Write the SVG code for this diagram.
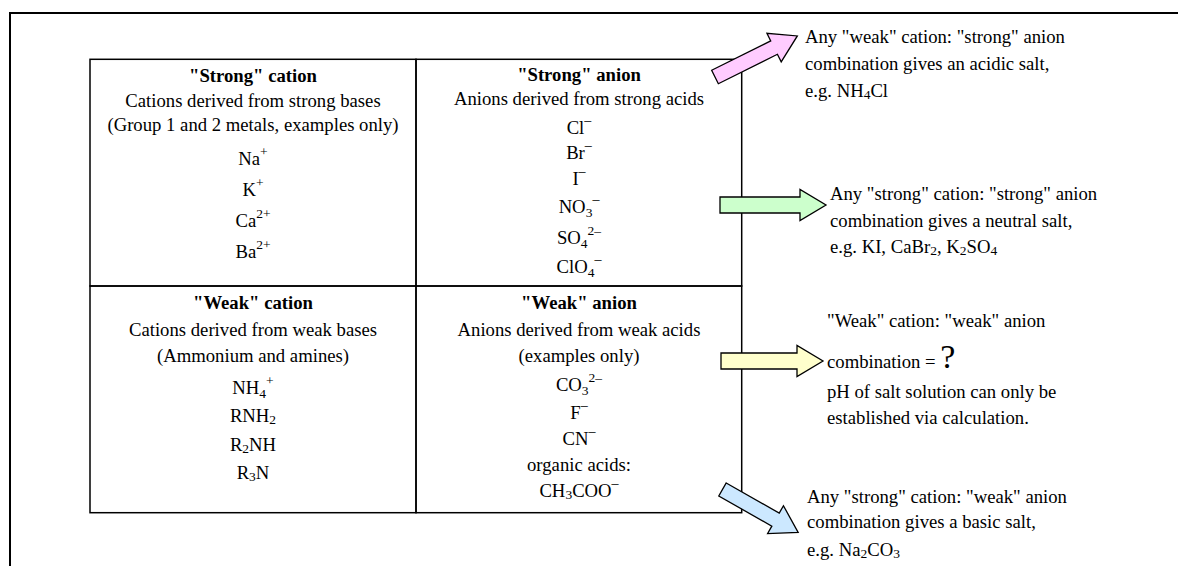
<svg xmlns="http://www.w3.org/2000/svg" width="1178" height="566" viewBox="0 0 1178 566">
<style>
text{font-family:"Liberation Serif","Times New Roman",serif;font-size:18.7px;fill:#000}
.c{text-anchor:middle}
.b{font-weight:bold}
.cell{fill:none;stroke:#000;stroke-width:1.5}
.frame{fill:none;stroke:#000;stroke-width:2}
.arrow{stroke:#000;stroke-width:1.3;stroke-linejoin:miter}
.sm{font-size:13.5px}
.dash{font-size:14px}
</style>
<rect x="0" y="0" width="1178" height="566" fill="#fff"/>
<path class="frame" d="M9,13 H1178 M10,12 V566"/>

<g id="cell-strong-cation">
<rect class="cell" x="90" y="59.3" width="326" height="226.7"/>
<text class="c b" x="253" y="82">"Strong" cation</text>
<text class="c" x="253" y="107">Cations derived from strong bases</text>
<text class="c" x="253" y="131">(Group 1 and 2 metals, examples only)</text>
<text class="c" x="253" y="165">Na<tspan class="sm" dy="-9">+</tspan></text>
<text class="c" x="253" y="196">K<tspan class="sm" dy="-9">+</tspan></text>
<text class="c" x="253" y="227">Ca<tspan class="sm" dy="-9">2+</tspan></text>
<text class="c" x="253" y="258">Ba<tspan class="sm" dy="-9">2+</tspan></text>
</g>

<g id="cell-strong-anion">
<rect class="cell" x="416" y="59.3" width="325.7" height="226.7"/>
<text class="c b" x="579" y="81">"Strong" anion</text>
<text class="c" x="579" y="105">Anions derived from strong acids</text>
<text class="c" x="579" y="134">Cl<tspan class="dash" dy="-9">–</tspan></text>
<text class="c" x="579" y="159">Br<tspan class="dash" dy="-9">–</tspan></text>
<text class="c" x="579" y="185">I<tspan class="dash" dy="-9">–</tspan></text>
<text class="c" x="579" y="213">NO<tspan class="sm" dy="4">3</tspan><tspan class="dash" dy="-13">–</tspan></text>
<text class="c" x="579" y="244">SO<tspan class="sm" dy="4">4</tspan><tspan class="sm" dy="-13">2–</tspan></text>
<text class="c" x="579" y="273">ClO<tspan class="sm" dy="4">4</tspan><tspan class="dash" dy="-13">–</tspan></text>
</g>

<g id="cell-weak-cation">
<rect class="cell" x="90" y="286" width="326" height="226.7"/>
<text class="c b" x="253" y="309">"Weak" cation</text>
<text class="c" x="253" y="335.5">Cations derived from weak bases</text>
<text class="c" x="253" y="362">(Ammonium and amines)</text>
<text class="c" x="253" y="393.5">NH<tspan class="sm" dy="4">4</tspan><tspan class="sm" dy="-13">+</tspan></text>
<text class="c" x="253" y="422">RNH<tspan class="sm" dy="2">2</tspan></text>
<text class="c" x="253" y="450.5">R<tspan class="sm" dy="2">2</tspan><tspan dy="-2">NH</tspan></text>
<text class="c" x="253" y="479">R<tspan class="sm" dy="2">3</tspan><tspan dy="-2">N</tspan></text>
</g>

<g id="cell-weak-anion">
<rect class="cell" x="416" y="286" width="325.7" height="226.7"/>
<text class="c b" x="579" y="309">"Weak" anion</text>
<text class="c" x="579" y="335.5">Anions derived from weak acids</text>
<text class="c" x="579" y="361.5">(examples only)</text>
<text class="c" x="579" y="391">CO<tspan class="sm" dy="4">3</tspan><tspan class="sm" dy="-13">2–</tspan></text>
<text class="c" x="579" y="418.5">F<tspan class="dash" dy="-9">–</tspan></text>
<text class="c" x="579" y="445">CN<tspan class="dash" dy="-9">–</tspan></text>
<text class="c" x="579" y="471">organic acids:</text>
<text class="c" x="579" y="497">CH<tspan class="sm" dy="2">3</tspan><tspan dy="-2">COO</tspan><tspan class="dash" dy="-9">–</tspan></text>
</g>

<g id="connectors">
<path class="arrow" fill="#FFCCFF" transform="translate(715,77) rotate(-26.5)" d="M0,-7.5 L66,-7.5 L66,-16 L92,0 L66,16 L66,7.5 L0,7.5 Z"/>
<path class="arrow" fill="#CCFFCC" transform="translate(720,205)" d="M0,-8 L80,-8 L80,-15.5 L106,0 L80,15.5 L80,8 L0,8 Z"/>
<path class="arrow" fill="#FFFFCC" transform="translate(721,361)" d="M0,-8 L76,-8 L76,-15.5 L102,0 L76,15.5 L76,8 L0,8 Z"/>
<path class="arrow" fill="#CCE8FF" transform="translate(722.5,489.5) rotate(29.6)" d="M0,-7.5 L61,-7.5 L61,-16 L87,0 L61,16 L61,7.5 L0,7.5 Z"/>
</g>

<g id="acidic-salt">
<text x="805" y="43.3">Any "weak" cation: "strong" anion</text>
<text x="805" y="70">combination gives an acidic salt,</text>
<text x="805" y="96.7">e.g. NH<tspan class="sm" dy="2">4</tspan><tspan dy="-2">Cl</tspan></text>
</g>

<g id="neutral-salt">
<text x="830" y="200">Any "strong" cation: "strong" anion</text>
<text x="830" y="226.7">combination gives a neutral salt,</text>
<text x="830" y="253.3">e.g. KI, CaBr<tspan class="sm" dy="2">2</tspan><tspan dy="-2">, K</tspan><tspan class="sm" dy="2">2</tspan><tspan dy="-2">SO</tspan><tspan class="sm" dy="2">4</tspan></text>
</g>

<g id="unknown-salt">
<text x="827" y="326.7">"Weak" cation: "weak" anion</text>
<text x="827" y="368.3">combination = <tspan style="font-size:34px">?</tspan></text>
<text x="827" y="398.3">pH of salt solution can only be</text>
<text x="827" y="424.3">established via calculation.</text>
</g>

<g id="basic-salt">
<text x="807" y="502.7">Any "strong" cation: "weak" anion</text>
<text x="807" y="528.3">combination gives a basic salt,</text>
<text x="807" y="556">e.g. Na<tspan class="sm" dy="2">2</tspan><tspan dy="-2">CO</tspan><tspan class="sm" dy="2">3</tspan></text>
</g>
</svg>
